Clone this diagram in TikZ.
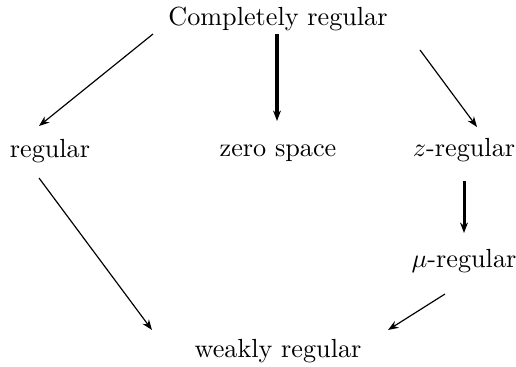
\documentclass[tikz,border=0pt]{standalone}
\usepackage{amsmath}
\usepackage{tikz}
\usetikzlibrary{arrows.meta}

\begin{document}
\begin{tikzpicture}[x=0.3817pt, y=-0.3817pt,
  >={Stealth[length=4pt,width=3pt]},
  every node/.style={anchor=base, inner sep=0pt},
  imp/.style={draw,->,line width=0.45pt},
  strongimp/.style={draw,->,line width=1.15pt}]
  \useasboundingbox (0,0) rectangle (516,366);
  % classes
  \node (cr)   at (278,26)  {Completely regular};
  \node (reg)  at (50,157)  {regular};
  \node (zero) at (278,156) {zero space};
  \node (zreg) at (464,156) {$z$-regular};
  \node (mu)   at (464,267) {$\mu$-regular};
  \node (weak) at (278,357) {weakly regular};
  % implications
  \path[imp] ([shift={(-125,8)}]cr.base) -- ([shift={(-11,-31)}]reg.base);
  \path[strongimp] ([shift={(-1,8)}]cr.base) -- ([shift={(-1,-35)}]zero.base);
  \path[imp] ([shift={(142,24)}]cr.base) -- ([shift={(13,-29)}]zreg.base);
  \path[imp] ([shift={(-11,21)}]reg.base) -- ([shift={(-126,-27)}]weak.base);
  \path[strongimp] ([shift={(0,25)}]zreg.base) -- ([shift={(0,-34)}]mu.base);
  \path[imp] ([shift={(-19,27)}]mu.base) -- ([shift={(110,-27)}]weak.base);
\end{tikzpicture}
\end{document}
